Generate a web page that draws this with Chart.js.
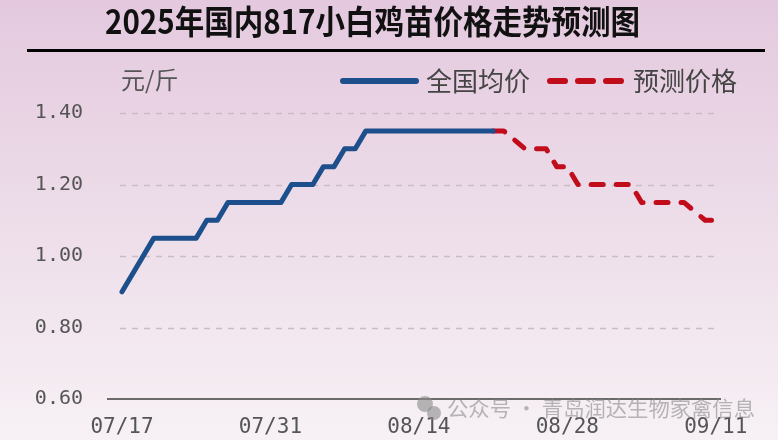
<!DOCTYPE html>
<html>
<head>
<meta charset="utf-8">
<script src="https://cdn.jsdelivr.net/npm/chart.js@4"></script>
<style>
  html, body { margin: 0; padding: 0; background: #f3ebf1; }
  #wrap { width: 778px; height: 440px; }
</style>
</head>
<body>
<div id="wrap"><canvas id="priceChart" width="778" height="440"></canvas></div>
<script>
// 标题和刻度
const TITLE = '2025年国内817小白鸡苗价格走势预测图';
const UNIT = '元/斤';
const WATERMARK = '公众号 · 青岛润达生物家禽信息';
const tickLabels = ['07/17', '07/31', '08/14', '08/28', '09/11'];
const tickDays = [0, 14, 28, 42, 56];

// 全国均价 (从 07/17 开始, 每天一个值, null = 直线连接)
const nationalAvg = [0.90, null, null, 1.05, 1.05, 1.05, 1.05, 1.05, 1.10, 1.10,
  1.15, 1.15, 1.15, 1.15, 1.15, 1.15, 1.20, 1.20, 1.20, 1.25, 1.25, 1.30, 1.30,
  1.35, 1.35, 1.35, 1.35, 1.35, 1.35, 1.35, 1.35, 1.35, 1.35, 1.35, 1.35, 1.35];

// 预测价格 (从第35天 08/21 开始)
const forecastStart = 35;
const forecast = [1.35, 1.35, null, 1.30, 1.30, 1.30, 1.25, 1.25, 1.20, 1.20, 1.20,
  1.20, 1.20, 1.20, 1.15, 1.15, 1.15, 1.15, 1.15, null, 1.10, 1.10];

function toPoints(arr, start) {
  return arr.map((v, i) => ({ x: start + i, y: v }));
}

const monoFont = '"DejaVu Sans Mono", "Liberation Mono", monospace';
const cjkFont = '"Noto Sans CJK SC", sans-serif';

// 背景, 标题, 单位, 图例, 网格, 水印
const decor = {
  id: 'decor',
  beforeDraw(chart) {
    const ctx = chart.ctx;
    const g = ctx.createLinearGradient(0, 0, 0, chart.height);
    g.addColorStop(0, '#e4c9de');
    g.addColorStop(0.45, '#ecdbe8');
    g.addColorStop(1, '#f7f1f5');
    ctx.save();
    ctx.fillStyle = g;
    ctx.fillRect(0, 0, chart.width, chart.height);

    // 标题
    ctx.font = 'bold 33px ' + cjkFont;
    ctx.fillStyle = '#111';
    ctx.textBaseline = 'middle';
    ctx.textAlign = 'left';
    const w = ctx.measureText(TITLE).width;
    ctx.save();
    ctx.translate(105, 21);
    ctx.scale(535 / w, 1);
    ctx.fillText(TITLE, 0, 0);
    ctx.restore();

    ctx.fillStyle = '#000';
    ctx.fillRect(27, 49, 738, 3);

    // 单位
    ctx.font = '24px ' + cjkFont;
    ctx.fillStyle = '#555';
    ctx.fillText(UNIT, 121, 80);

    // 图例
    const legendX = [340, 547];
    const y = 81;
    ctx.font = '26px ' + cjkFont;
    chart.data.datasets.forEach((ds, i) => {
      const x = legendX[i];
      ctx.save();
      ctx.strokeStyle = ds.borderColor;
      ctx.lineWidth = 6;
      ctx.lineCap = 'round';
      ctx.setLineDash(ds.borderDash ? [15, 13] : []);
      ctx.beginPath();
      ctx.moveTo(x + 3, y);
      ctx.lineTo(x + 76, y);
      ctx.stroke();
      ctx.restore();
      ctx.fillStyle = '#444';
      ctx.fillText(ds.label, x + 86, y);
    });
    ctx.restore();
  },
  beforeDatasetsDraw(chart) {
    // 虚线网格, 从 x=120 开始
    const ctx = chart.ctx;
    const ys = chart.scales.y;
    ctx.save();
    ctx.strokeStyle = '#c9bcc5';
    ctx.lineWidth = 1.5;
    ctx.setLineDash([6, 6]);
    ys.ticks.forEach(t => {
      if (t.value <= 0.6001) return;
      const py = Math.round(ys.getPixelForValue(t.value)) + 0.5;
      ctx.beginPath();
      ctx.moveTo(120, py);
      ctx.lineTo(chart.chartArea.right - 2, py);
      ctx.stroke();
    });
    ctx.restore();
  },
  afterDraw(chart) {
    const ctx = chart.ctx;
    ctx.save();
    ctx.globalAlpha = 0.6;
    ctx.fillStyle = '#8a8a8a';
    ctx.beginPath();
    ctx.arc(425, 404, 8, 0, Math.PI * 2);
    ctx.fill();
    ctx.beginPath();
    ctx.arc(434, 413, 7, 0, Math.PI * 2);
    ctx.fill();
    ctx.font = '21px ' + cjkFont;
    ctx.textBaseline = 'middle';
    const w = ctx.measureText(WATERMARK).width;
    ctx.translate(447, 408);
    ctx.scale(308 / w, 1);
    ctx.fillText(WATERMARK, 0, 0);
    ctx.restore();
  }
};

const ctx = document.getElementById('priceChart').getContext('2d');
const priceChart = new Chart(ctx, {
  type: 'line',
  data: {
    datasets: [{
      label: '全国均价',
      data: toPoints(nationalAvg, 0),
      borderColor: '#1c4f8b',
      borderWidth: 5,
      borderJoinStyle: 'round',
      borderCapStyle: 'round',
      pointRadius: 0,
      tension: 0,
      spanGaps: true
    }, {
      label: '预测价格',
      data: toPoints(forecast, forecastStart),
      borderColor: '#c10c1c',
      borderWidth: 5,
      borderDash: [12, 13],
      borderCapStyle: 'round',
      borderJoinStyle: 'round',
      pointRadius: 0,
      tension: 0,
      spanGaps: true
    }]
  },
  options: {
    responsive: false,
    animation: false,
    layout: { padding: { top: 113, left: 33, right: 58, bottom: 2 } },
    plugins: {
      legend: { display: false },
      title: { display: false },
      tooltip: { enabled: false }
    },
    scales: {
      x: {
        type: 'linear',
        min: -1.32,
        max: 56.4,
        afterBuildTicks: (s) => { s.ticks = tickDays.map(v => ({ value: v })); },
        afterFit: (s) => { s.paddingLeft = 0; s.paddingRight = 0; s.height = 39; },
        grid: { display: false },
        border: { display: true, color: '#6d6a6c', width: 2 },
        ticks: {
          autoSkip: false,
          maxRotation: 0,
          padding: 8,
          color: '#555',
          font: { family: monoFont, size: 21 },
          callback: (v) => tickLabels[tickDays.indexOf(v)]
        }
      },
      y: {
        min: 0.6,
        max: 1.4,
        afterFit: (s) => { s.width = 75; },
        grid: { color: 'rgba(0,0,0,0)', drawTicks: false },
        border: { display: false },
        ticks: {
          stepSize: 0.2,
          padding: 25,
          color: '#555',
          font: { family: monoFont, size: 20 },
          callback: (v) => v.toFixed(2)
        }
      }
    }
  },
  plugins: [decor]
});
</script>
</body>
</html>
